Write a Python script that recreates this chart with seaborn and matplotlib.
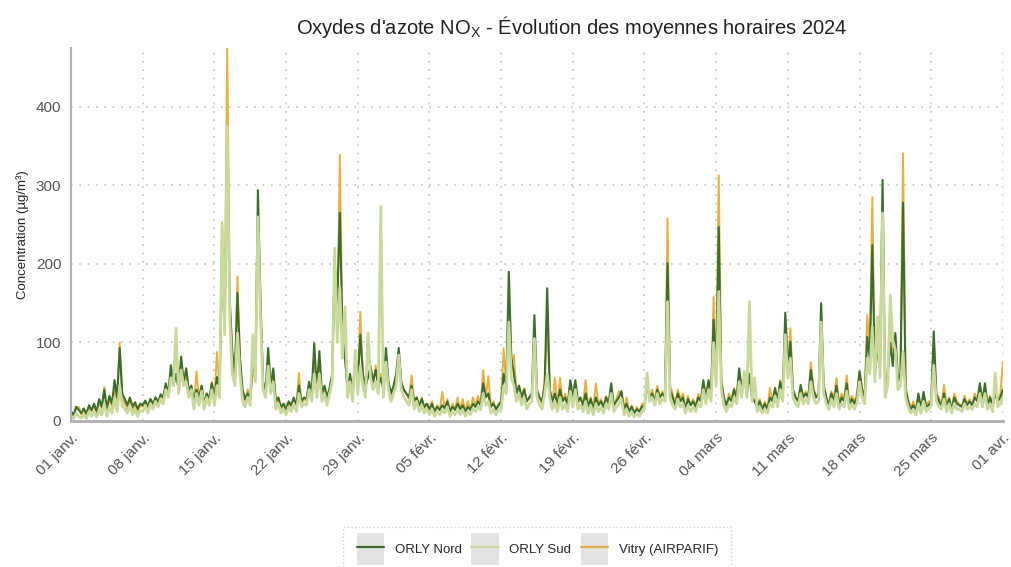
import matplotlib
matplotlib.use("Agg")
import matplotlib.pyplot as plt
import numpy as np
import pandas as pd
import seaborn as sns
from matplotlib.legend_handler import HandlerLine2D
from matplotlib.lines import Line2D
from matplotlib.patches import Rectangle

# %% Data: NOx hourly means, one value every 6 h (00h, 06h, 12h, 18h)
START = "2024-01-01"
END = "2024-04-01"
STEP = "6h"

orly_nord = [
    12, 8, 18, 14, 10, 16, 9, 20, 14, 22, 12, 28, 18, 40, 15, 32, 22, 52, 30, 93, 35, 28, 20, 30, 18, 24, 15, 22,
    20, 26, 18, 28, 22, 30, 24, 34, 30, 48, 35, 71, 45, 60, 40, 82, 50, 67, 38, 45, 25, 40, 30, 45, 22, 35, 28, 48,
    30, 56, 40, 200, 120, 343, 150, 88, 60, 163, 80, 40, 28, 35, 30, 70, 60, 294, 154, 50, 40, 93, 45, 67, 25, 30, 18, 22,
    15, 25, 20, 30, 20, 45, 25, 30, 28, 50, 35, 99, 40, 89, 35, 45, 30, 42, 60, 200, 150, 265, 120, 80, 40, 60, 35, 75,
    50, 110, 60, 45, 55, 70, 50, 65, 45, 55, 40, 93, 50, 35, 45, 60, 93, 50, 40, 35, 30, 45, 25, 30, 20, 28, 18, 22,
    15, 22, 12, 18, 14, 20, 16, 25, 12, 18, 14, 22, 15, 20, 12, 18, 14, 22, 18, 25, 20, 48, 30, 35, 18, 22, 15, 20,
    25, 60, 45, 190, 80, 60, 35, 45, 30, 40, 25, 30, 35, 135, 40, 30, 25, 45, 169, 40, 25, 35, 20, 40, 25, 30, 20, 52,
    30, 52, 25, 30, 20, 35, 18, 28, 15, 30, 20, 25, 18, 30, 22, 48, 20, 25, 30, 38, 15, 22, 12, 18, 10, 15, 12, 18,
    20, 45, 30, 35, 25, 40, 30, 35, 30, 201, 40, 30, 20, 35, 25, 30, 15, 28, 20, 25, 18, 30, 25, 52, 30, 52, 35, 129,
    60, 247, 50, 30, 20, 30, 25, 40, 30, 67, 40, 55, 35, 60, 30, 25, 18, 25, 15, 22, 15, 30, 25, 42, 25, 50, 35, 138,
    70, 101, 40, 30, 25, 46, 30, 35, 30, 65, 40, 30, 35, 150, 45, 30, 20, 35, 25, 45, 20, 30, 25, 48, 20, 28, 22, 30,
    63, 40, 30, 107, 80, 224, 60, 90, 70, 307, 40, 60, 100, 70, 112, 50, 60, 278, 40, 25, 15, 20, 12, 35, 15, 37, 18, 20,
    25, 114, 35, 25, 20, 35, 18, 28, 15, 30, 22, 20, 18, 28, 20, 25, 20, 30, 25, 48, 25, 48, 20, 30, 18, 35, 25, 30,
    40,
]

orly_sud = [
    5, 3, 10, 6, 4, 8, 3, 12, 6, 12, 5, 15, 8, 22, 6, 18, 10, 30, 12, 45, 20, 15, 10, 20, 8, 15, 6, 14,
    12, 20, 10, 22, 15, 25, 18, 28, 22, 40, 30, 55, 45, 118, 35, 65, 45, 50, 30, 40, 15, 35, 20, 38, 15, 30, 20, 40,
    20, 45, 30, 250, 110, 375, 130, 60, 45, 112, 60, 25, 18, 30, 20, 110, 50, 260, 130, 40, 30, 70, 35, 50, 15, 22, 10, 15,
    8, 18, 12, 22, 12, 35, 18, 22, 20, 40, 25, 60, 30, 60, 25, 35, 20, 35, 50, 220, 100, 170, 80, 145, 30, 50, 25, 90,
    35, 70, 45, 30, 112, 55, 40, 50, 35, 273, 30, 75, 40, 25, 35, 45, 84, 40, 30, 25, 20, 40, 15, 25, 12, 20, 10, 15,
    8, 15, 6, 12, 8, 14, 10, 18, 6, 12, 8, 15, 8, 14, 6, 12, 8, 16, 12, 18, 14, 35, 20, 25, 10, 15, 8, 14,
    15, 45, 35, 126, 55, 45, 25, 35, 20, 30, 15, 22, 25, 105, 30, 20, 15, 35, 60, 30, 15, 25, 12, 30, 15, 22, 12, 38,
    18, 40, 15, 20, 12, 25, 10, 20, 8, 22, 12, 18, 10, 22, 15, 35, 12, 18, 22, 28, 8, 15, 6, 12, 5, 10, 6, 12,
    15, 61, 25, 30, 20, 35, 22, 28, 25, 152, 30, 20, 15, 28, 18, 22, 10, 20, 12, 18, 12, 22, 18, 40, 22, 40, 25, 100,
    45, 165, 40, 20, 12, 22, 18, 30, 22, 50, 30, 63, 30, 152, 25, 55, 12, 18, 10, 15, 10, 22, 18, 32, 18, 40, 25, 110,
    55, 80, 30, 22, 18, 35, 22, 28, 22, 50, 30, 22, 25, 126, 35, 22, 15, 28, 18, 35, 15, 22, 18, 38, 15, 22, 15, 22,
    50, 30, 22, 80, 60, 120, 50, 133, 55, 265, 30, 45, 160, 103, 90, 40, 45, 88, 30, 18, 10, 15, 8, 22, 10, 25, 12, 15,
    20, 71, 25, 18, 15, 28, 12, 22, 10, 22, 15, 15, 12, 22, 15, 18, 15, 22, 18, 35, 18, 35, 15, 22, 12, 61, 18, 22,
    30,
]

vitry = [
    10, 6, 15, 18, 8, 14, 7, 18, 12, 20, 10, 25, 15, 43, 12, 30, 18, 40, 25, 100, 30, 22, 15, 28, 14, 22, 12, 20,
    18, 25, 15, 28, 20, 30, 22, 32, 28, 45, 35, 65, 50, 100, 40, 75, 48, 60, 35, 45, 22, 63, 28, 45, 20, 35, 25, 50,
    28, 88, 40, 253, 130, 476, 160, 80, 55, 184, 75, 35, 25, 40, 28, 60, 55, 240, 140, 45, 35, 80, 40, 60, 22, 28, 15, 20,
    12, 22, 18, 28, 18, 61, 22, 28, 25, 48, 30, 85, 35, 75, 30, 40, 25, 40, 55, 210, 120, 339, 100, 90, 35, 55, 30, 85,
    45, 139, 55, 40, 60, 63, 45, 71, 40, 60, 38, 80, 45, 32, 40, 55, 88, 48, 38, 35, 28, 58, 25, 30, 18, 30, 15, 22,
    14, 25, 12, 20, 14, 37, 16, 28, 12, 22, 14, 30, 15, 28, 12, 25, 14, 30, 20, 32, 20, 65, 30, 57, 18, 25, 14, 22,
    25, 93, 45, 150, 70, 84, 35, 45, 28, 42, 25, 30, 30, 110, 35, 28, 22, 52, 120, 40, 22, 55, 20, 55, 25, 35, 20, 48,
    28, 45, 22, 30, 20, 52, 18, 30, 15, 48, 22, 28, 18, 32, 22, 42, 20, 28, 38, 35, 15, 30, 12, 20, 10, 18, 12, 22,
    20, 50, 30, 40, 25, 45, 30, 38, 30, 258, 45, 35, 22, 40, 28, 35, 15, 32, 20, 28, 18, 35, 25, 48, 28, 48, 35, 158,
    60, 313, 55, 30, 20, 35, 28, 42, 28, 60, 40, 55, 35, 130, 30, 28, 18, 28, 15, 25, 15, 42, 25, 40, 25, 52, 35, 125,
    65, 118, 40, 32, 25, 42, 30, 38, 32, 75, 40, 30, 35, 135, 45, 30, 22, 38, 28, 55, 22, 35, 28, 58, 22, 32, 25, 35,
    63, 42, 30, 135, 90, 285, 65, 110, 70, 260, 45, 65, 130, 90, 105, 55, 60, 341, 45, 28, 15, 25, 14, 30, 15, 35, 20, 25,
    25, 100, 35, 30, 20, 46, 20, 30, 15, 35, 25, 22, 18, 32, 22, 28, 20, 35, 28, 45, 25, 42, 22, 32, 18, 40, 28, 35,
    75,
]

STATIONS = ["ORLY Nord", "ORLY Sud", "Vitry (AIRPARIF)"]
COLORS = {"ORLY Nord": "#3b6e2a", "ORLY Sud": "#c9d99c", "Vitry (AIRPARIF)": "#e9b040"}
WIDTHS = {"ORLY Nord": 1.5, "ORLY Sud": 2.0, "Vitry (AIRPARIF)": 1.4}
# draw order: Vitry at the back, ORLY Sud on top
DRAW_ORDER = ["Vitry (AIRPARIF)", "ORLY Nord", "ORLY Sud"]

MOIS = {1: "janv.", 2: "févr.", 3: "mars", 4: "avr."}

times = pd.date_range(START, END, freq=STEP)
df = pd.concat([
    pd.DataFrame({"time": times, "value": vals, "station": name})
    for name, vals in zip(STATIONS, [orly_nord, orly_sud, vitry])
])

# %% Plot
sns.set_style("white")
plt.rcParams["font.family"] = ["Liberation Sans", "DejaVu Sans"]

fig = plt.figure(figsize=(10.12, 5.67), dpi=100)
ax = fig.add_axes([0.0702, 0.2575, 0.9208, 0.6578])

for name in DRAW_ORDER:
    sns.lineplot(
        data=df[df["station"] == name], x="time", y="value",
        color=COLORS[name], linewidth=WIDTHS[name], ax=ax, legend=False,
    )

start, end = pd.Timestamp(START), pd.Timestamp(END)
ax.set_xlim(start, end)
ax.set_ylim(0, 475)

tick_dates = pd.date_range(start, end, freq="7D")
ax.set_xticks(tick_dates)
ax.set_xticklabels([f"{d.day:02d} {MOIS[d.month]}" for d in tick_dates],
                   rotation=45, ha="right", rotation_mode="anchor")
ax.set_yticks([0, 100, 200, 300, 400])

ax.grid(True, color="#c4c4c4", linestyle=(0, (1, 4)), linewidth=1.2)
ax.tick_params(axis="both", length=4, width=1, color="#333333",
               labelsize=11, labelcolor="#555555", pad=3)
for side in ["top", "right"]:
    ax.spines[side].set_visible(False)
ax.spines["left"].set_color("#b0b0b0")
ax.spines["left"].set_linewidth(1.5)
ax.spines["bottom"].set_color("#b0b0b0")
ax.spines["bottom"].set_linewidth(2)

ax.set_xlabel("")
ax.set_ylabel("Concentration (µg/m³)", fontsize=9.5, color="#222222", labelpad=5)
fig.suptitle("Oxydes d'azote NO$_{\\mathregular{X}}$ - Évolution des moyennes horaires 2024",
             x=0.565, y=0.975, fontsize=14.5, color="#222222")


class KeyHandler(HandlerLine2D):
    """Legend key drawn on a grey square, ggplot style."""

    def create_artists(self, legend, orig_handle, xdescent, ydescent, width, height, fontsize, trans):
        bg = Rectangle((-xdescent, -ydescent - 0.45 * height), width, 1.9 * height,
                       facecolor="#e3e3e3", edgecolor="none", transform=trans)
        artists = super().create_artists(legend, orig_handle, xdescent, ydescent,
                                         width, height, fontsize, trans)
        return [bg] + list(artists)


handles = [Line2D([0], [0], color=COLORS[n], linewidth=1.6) for n in STATIONS]
leg = fig.legend(
    handles, STATIONS, loc="upper center", bbox_to_anchor=(0.531, 0.082), ncol=3,
    fontsize=9.5, frameon=True, fancybox=False, handlelength=2.1, handleheight=1.6,
    handletextpad=0.8, columnspacing=0.7, borderpad=1.0,
    handler_map={Line2D: KeyHandler(marker_pad=0)},
)
leg.get_frame().set_edgecolor("#c8c8c8")
leg.get_frame().set_linestyle(":")
leg.get_frame().set_linewidth(1)

fig.savefig("out.png", dpi=100)
